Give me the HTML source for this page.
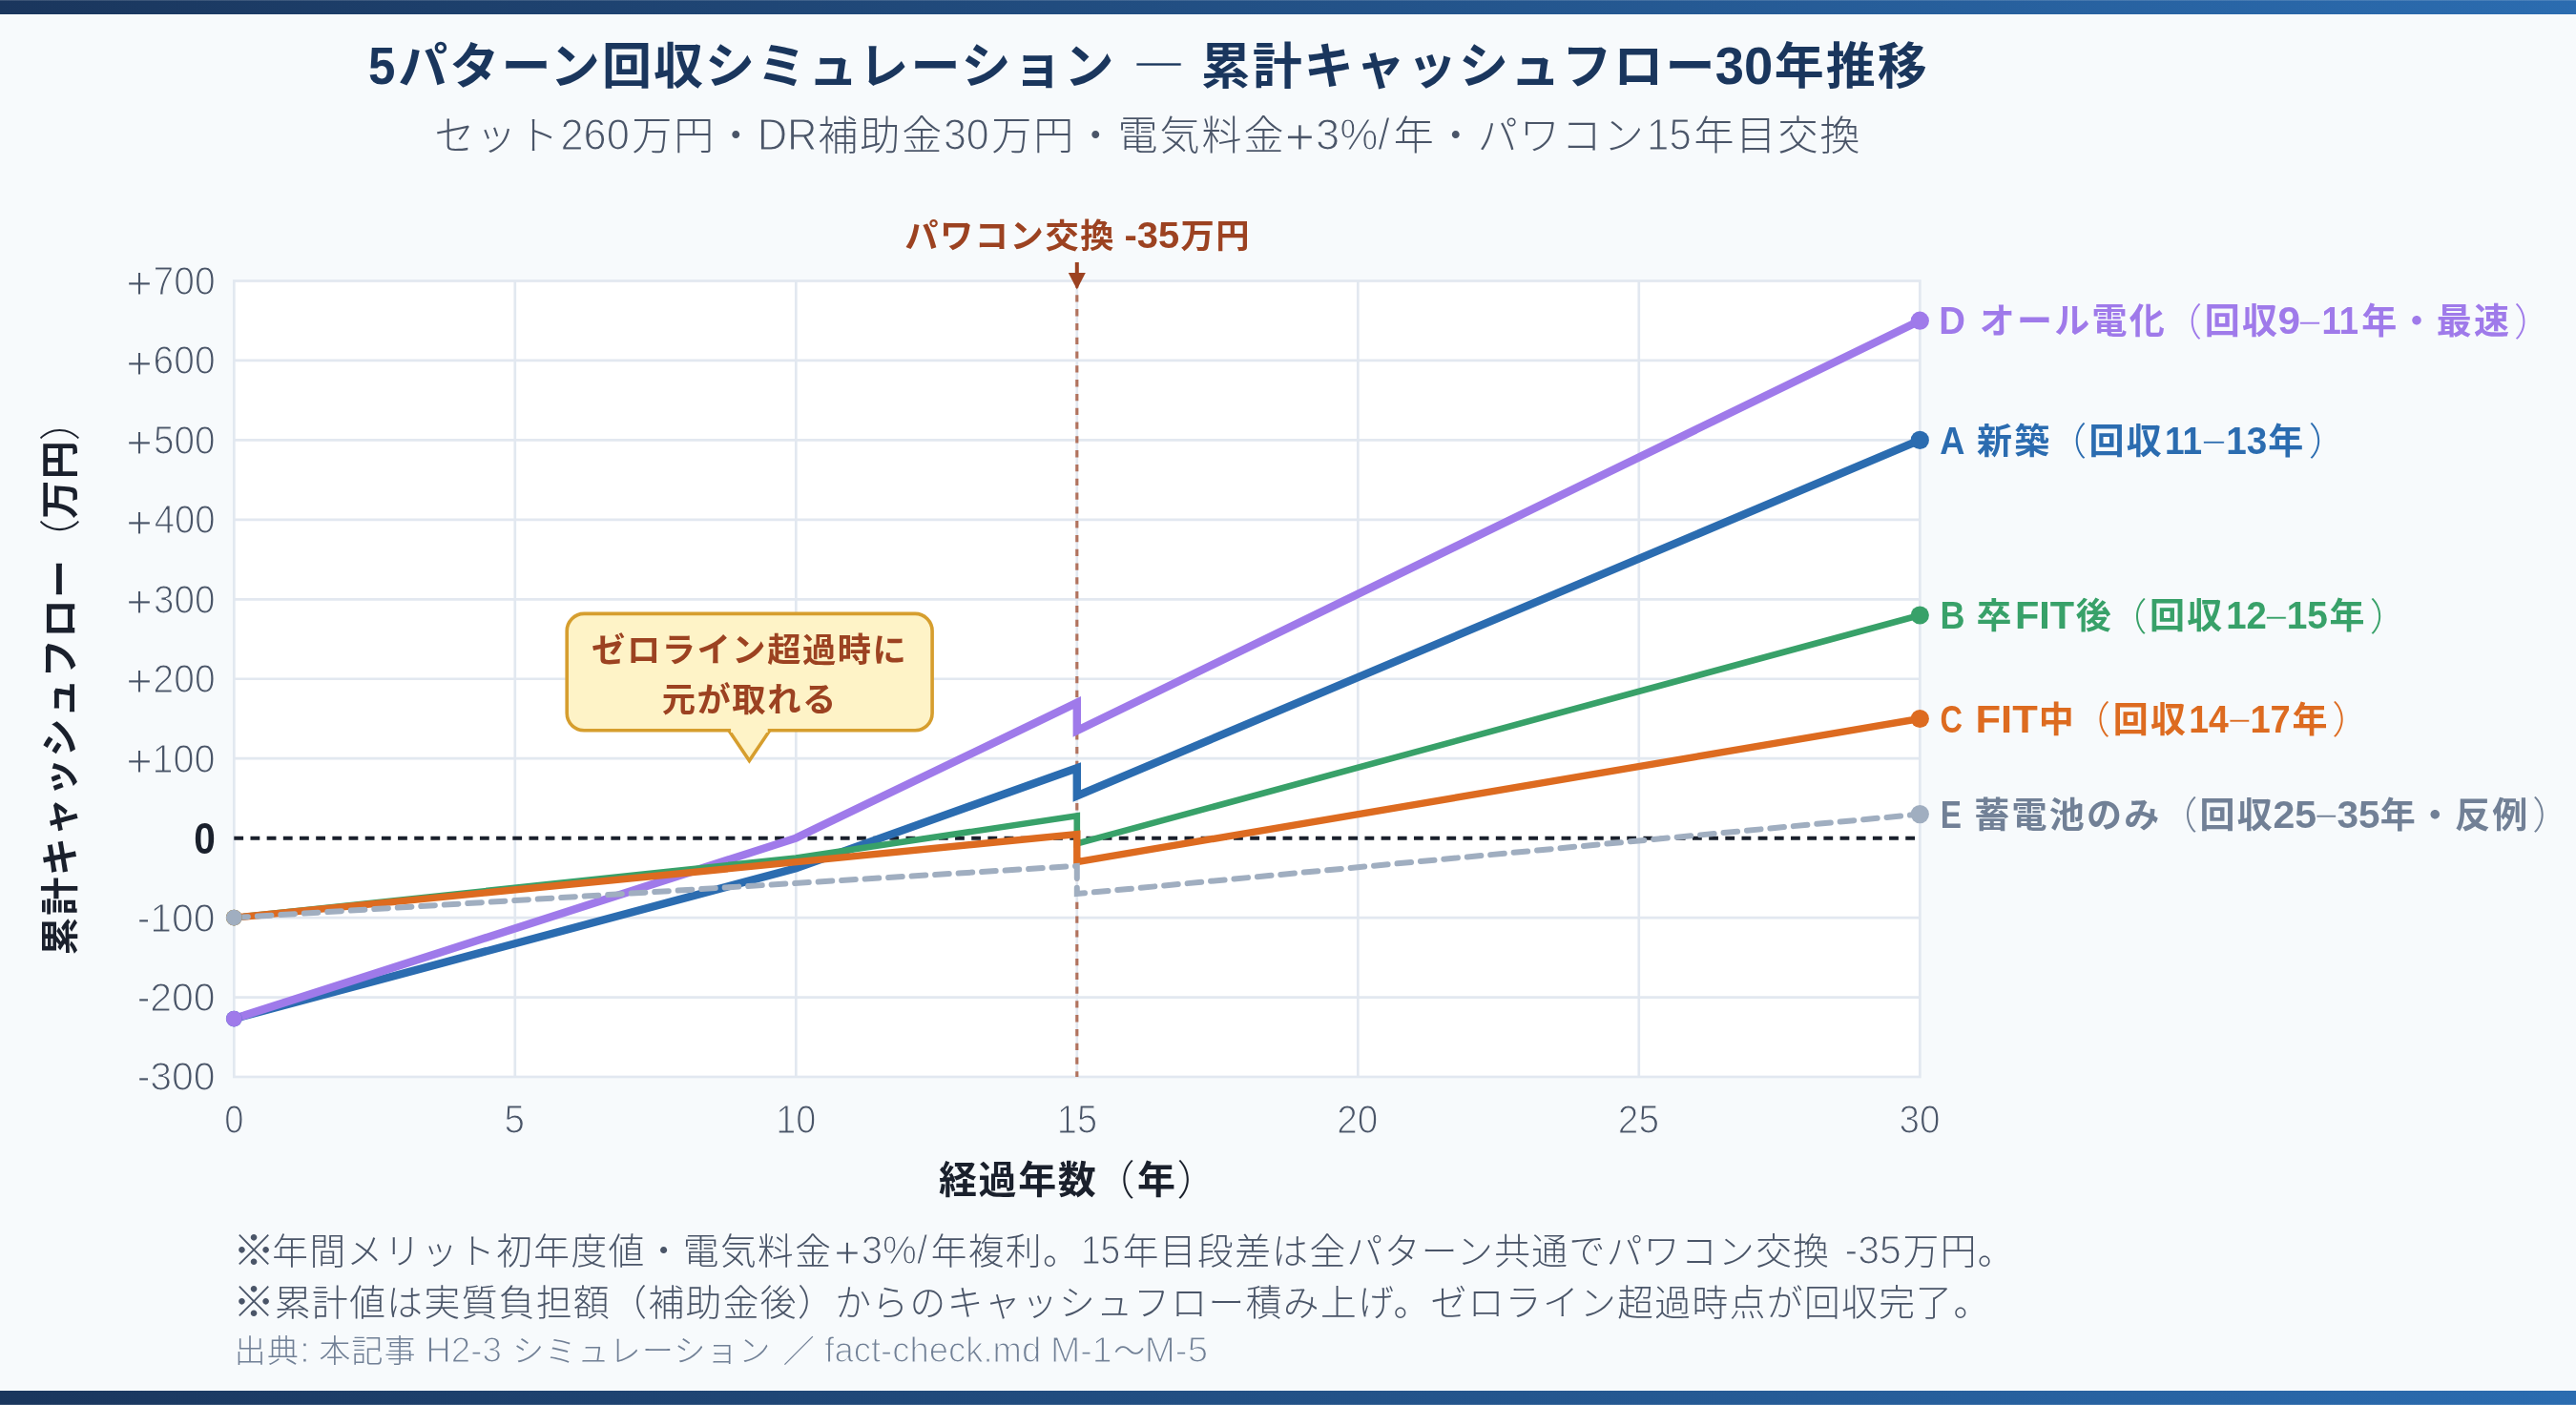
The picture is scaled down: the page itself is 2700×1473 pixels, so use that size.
<!DOCTYPE html>
<html lang="ja"><head><meta charset="utf-8">
<title>5パターン回収シミュレーション</title>
<style>
html,body{margin:0;padding:0;background:#f7fafc;}
body{width:2700px;height:1473px;overflow:hidden;}
svg{display:block;will-change:transform;}
svg text{font-family:"Liberation Sans", "Noto Sans CJK JP", sans-serif;white-space:pre;}
</style></head><body>
<svg width="2700" height="1473" viewBox="0 0 2700 1473">
<defs><linearGradient id="bar" x1="0" y1="0" x2="1" y2="0"><stop offset="0" stop-color="#1a365d"/><stop offset="1" stop-color="#2b6cb0"/></linearGradient></defs>
<rect x="0" y="0" width="2700" height="1473" fill="#f7fafc"/>
<rect x="0" y="0.15" width="2700" height="14.85" fill="url(#bar)"/>
<rect x="0" y="1458" width="2700" height="14.85" fill="url(#bar)"/>
<text y="88" font-size="52" font-weight="700" fill="#1a365d"><tspan x="386.03" font-size="56.41" textLength="28.39" lengthAdjust="spacingAndGlyphs">5</tspan><tspan x="417.23" letter-spacing="2.08">パターン回収シミュレーション </tspan><tspan x="1190.9" dy="-8.85" font-weight="400" font-size="47.1" stroke="#f7fafc" stroke-width="0.7">—</tspan><tspan> </tspan><tspan x="1258.66" dy="8.85" letter-spacing="2.08">累計キャッシュフロー</tspan><tspan x="1797.65" font-size="56.41" textLength="60.48" lengthAdjust="spacingAndGlyphs">30</tspan><tspan x="1859.68" letter-spacing="2.08">年推移</tspan></text>
<text y="156.5" font-size="42" font-weight="300" fill="#4a5568"><tspan x="455.14" letter-spacing="2.02">セット</tspan><tspan x="587.48" font-size="46.31" textLength="72.36" lengthAdjust="spacingAndGlyphs" stroke="#f7fafc" stroke-width="1.2">260</tspan><tspan x="662.34" letter-spacing="2.02">万円・</tspan><tspan x="793.69" font-size="46.31" textLength="62.87" lengthAdjust="spacingAndGlyphs" stroke="#f7fafc" stroke-width="1.2">DR</tspan><tspan x="857.19" letter-spacing="2.02">補助金</tspan><tspan x="988.92" font-size="46.31" textLength="47.8" lengthAdjust="spacingAndGlyphs" stroke="#f7fafc" stroke-width="1.2">30</tspan><tspan x="1039.34" letter-spacing="2.02">万円・電気料金</tspan><tspan x="1346.64" dy="5.25" font-size="53.68" stroke="#f7fafc" stroke-width="1.2">+</tspan><tspan x="1379.04" dy="-5.25" font-size="46.31" textLength="77.8" lengthAdjust="spacingAndGlyphs" stroke="#f7fafc" stroke-width="1.2">3%/</tspan><tspan x="1460.72" letter-spacing="2.02">年・パワコン</tspan><tspan x="1726.07" font-size="46.31" textLength="46.63" lengthAdjust="spacingAndGlyphs" stroke="#f7fafc" stroke-width="1.2">15</tspan><tspan x="1775.42" letter-spacing="2.02">年目交換</tspan></text>
<rect x="245.3" y="294.5" width="1767.0" height="834.5" fill="#ffffff"/>
<path d="M539.8,294.5 V1129.0 M834.3,294.5 V1129.0 M1128.8,294.5 V1129.0 M1423.3,294.5 V1129.0 M1717.8,294.5 V1129.0 M245.3,1045.55 H2012.3 M245.3,962.1 H2012.3 M245.3,795.2 H2012.3 M245.3,711.75 H2012.3 M245.3,628.3 H2012.3 M245.3,544.85 H2012.3 M245.3,461.4 H2012.3 M245.3,377.95 H2012.3" stroke="#e2e8f0" stroke-width="2.7" fill="none"/>
<rect x="245.3" y="294.5" width="1767.0" height="834.5" fill="none" stroke="#e2e8f0" stroke-width="2.7"/>
<text y="1143.4" font-size="38" font-weight="300" fill="#4a5568"><tspan x="143.64" font-size="42.05" textLength="82" lengthAdjust="spacingAndGlyphs" stroke="#f7fafc" stroke-width="1.2">-300</tspan></text>
<text y="1059.95" font-size="38" font-weight="300" fill="#4a5568"><tspan x="143.64" font-size="42.05" textLength="82" lengthAdjust="spacingAndGlyphs" stroke="#f7fafc" stroke-width="1.2">-200</tspan></text>
<text y="976.5" font-size="38" font-weight="300" fill="#4a5568"><tspan x="143.64" font-size="42.05" textLength="82" lengthAdjust="spacingAndGlyphs" stroke="#f7fafc" stroke-width="1.2">-100</tspan></text>
<text y="894.65" font-size="42" font-weight="700" fill="#1a202c"><tspan x="203.29" font-size="45.56" textLength="22.57" lengthAdjust="spacingAndGlyphs">0</tspan></text>
<text y="809.6" font-size="38" font-weight="300" fill="#4a5568"><tspan x="132.21" dy="4.29" font-size="47.2" stroke="#f7fafc" stroke-width="1.2">+</tspan><tspan x="159.54" dy="-4.29" font-size="42.05" textLength="66.04" lengthAdjust="spacingAndGlyphs" stroke="#f7fafc" stroke-width="1.2">100</tspan></text>
<text y="726.15" font-size="38" font-weight="300" fill="#4a5568"><tspan x="132.21" dy="4.29" font-size="47.2" stroke="#f7fafc" stroke-width="1.2">+</tspan><tspan x="160.6" dy="-4.29" font-size="42.05" textLength="64.96" lengthAdjust="spacingAndGlyphs" stroke="#f7fafc" stroke-width="1.2">200</tspan></text>
<text y="642.7" font-size="38" font-weight="300" fill="#4a5568"><tspan x="132.21" dy="4.29" font-size="47.2" stroke="#f7fafc" stroke-width="1.2">+</tspan><tspan x="161.09" dy="-4.29" font-size="42.05" textLength="64.46" lengthAdjust="spacingAndGlyphs" stroke="#f7fafc" stroke-width="1.2">300</tspan></text>
<text y="559.25" font-size="38" font-weight="300" fill="#4a5568"><tspan x="132.21" dy="4.29" font-size="47.2" stroke="#f7fafc" stroke-width="1.2">+</tspan><tspan x="161.68" dy="-4.29" font-size="42.05" textLength="63.85" lengthAdjust="spacingAndGlyphs" stroke="#f7fafc" stroke-width="1.2">400</tspan></text>
<text y="475.8" font-size="38" font-weight="300" fill="#4a5568"><tspan x="132.21" dy="4.29" font-size="47.2" stroke="#f7fafc" stroke-width="1.2">+</tspan><tspan x="161.01" dy="-4.29" font-size="42.05" textLength="64.54" lengthAdjust="spacingAndGlyphs" stroke="#f7fafc" stroke-width="1.2">500</tspan></text>
<text y="392.35" font-size="38" font-weight="300" fill="#4a5568"><tspan x="132.21" dy="4.29" font-size="47.2" stroke="#f7fafc" stroke-width="1.2">+</tspan><tspan x="160.58" dy="-4.29" font-size="42.05" textLength="64.98" lengthAdjust="spacingAndGlyphs" stroke="#f7fafc" stroke-width="1.2">600</tspan></text>
<text y="308.9" font-size="38" font-weight="300" fill="#4a5568"><tspan x="132.21" dy="4.29" font-size="47.2" stroke="#f7fafc" stroke-width="1.2">+</tspan><tspan x="160.56" dy="-4.29" font-size="42.05" textLength="65" lengthAdjust="spacingAndGlyphs" stroke="#f7fafc" stroke-width="1.2">700</tspan></text>
<text y="1187.8" font-size="38" font-weight="300" fill="#4a5568"><tspan x="235.19" font-size="42.05" textLength="20.22" lengthAdjust="spacingAndGlyphs" stroke="#f7fafc" stroke-width="1.2">0</tspan></text>
<text y="1187.8" font-size="38" font-weight="300" fill="#4a5568"><tspan x="528.61" font-size="42.05" textLength="21.5" lengthAdjust="spacingAndGlyphs" stroke="#f7fafc" stroke-width="1.2">5</tspan></text>
<text y="1187.8" font-size="38" font-weight="300" fill="#4a5568"><tspan x="813.28" font-size="42.05" textLength="42.11" lengthAdjust="spacingAndGlyphs" stroke="#f7fafc" stroke-width="1.2">10</tspan></text>
<text y="1187.8" font-size="38" font-weight="300" fill="#4a5568"><tspan x="1107.77" font-size="42.05" textLength="42.24" lengthAdjust="spacingAndGlyphs" stroke="#f7fafc" stroke-width="1.2">15</tspan></text>
<text y="1187.8" font-size="38" font-weight="300" fill="#4a5568"><tspan x="1401.32" font-size="42.05" textLength="43.11" lengthAdjust="spacingAndGlyphs" stroke="#f7fafc" stroke-width="1.2">20</tspan></text>
<text y="1187.8" font-size="38" font-weight="300" fill="#4a5568"><tspan x="1695.81" font-size="42.05" textLength="43.24" lengthAdjust="spacingAndGlyphs" stroke="#f7fafc" stroke-width="1.2">25</tspan></text>
<text y="1187.8" font-size="38" font-weight="300" fill="#4a5568"><tspan x="1990.41" font-size="42.05" textLength="43.01" lengthAdjust="spacingAndGlyphs" stroke="#f7fafc" stroke-width="1.2">30</tspan></text>
<text y="1251" font-size="40" font-weight="700" fill="#1a202c"><tspan x="983.96" letter-spacing="1.6">経過年数</tspan><tspan x="1146.46" dy="1.76" font-weight="300" font-size="43.2" letter-spacing="1.6">（</tspan><tspan x="1192.12" dy="-1.76" letter-spacing="1.6">年</tspan><tspan x="1233.47" dy="1.76" font-weight="300" font-size="43.2" letter-spacing="1.6">）</tspan></text>
<text y="0" font-size="40" font-weight="700" fill="#1a202c" transform="translate(77.3,711) rotate(-90)"><tspan x="-290.4" letter-spacing="1.6">累計キャッシュフロー</tspan><tspan x="124" dy="1.76" font-weight="300" font-size="43.2" letter-spacing="1.6">（</tspan><tspan x="167.2" dy="-1.76" letter-spacing="1.6">万円</tspan><tspan x="248.8" dy="1.76" font-weight="300" font-size="43.2" letter-spacing="1.6">）</tspan></text>
<path d="M245.3,878.65 H2012.3" stroke="#1a202c" stroke-width="4" stroke-dasharray="9.81 7.366" fill="none"/>
<path d="M1128.8,294.5 V1129.0" stroke="#9c4221" stroke-opacity="0.7" stroke-width="3.2" stroke-dasharray="7.3 7.5" fill="none"/>
<path d="M245.3,1068.08 L834.3,910.36 L1128.8,805.21 L1128.8,834.42 L2012.3,461.4" stroke="#2b6cb0" stroke-width="8.4" stroke-linejoin="miter" stroke-miterlimit="10" fill="none"/>
<path d="M245.3,1068.08 L834.3,878.65 L1128.8,736.78 L1128.8,765.99 L2012.3,336.22" stroke="#9f7aea" stroke-width="8.4" stroke-linejoin="miter" stroke-miterlimit="10" fill="none"/>
<path d="M245.3,962.1 L834.3,899.51 L1128.8,855.28 L1128.8,884.49 L2012.3,644.99" stroke="#38a169" stroke-width="6.6" stroke-linejoin="miter" stroke-miterlimit="10" fill="none"/>
<path d="M245.3,962.1 L1128.8,874.48 L1128.8,903.68 L2012.3,753.48" stroke="#dd6b20" stroke-width="7.4" stroke-linejoin="miter" stroke-miterlimit="10" fill="none"/>
<path d="M245.3,962.1 L1128.8,907.86 L1128.8,937.06 L2012.3,853.62" stroke="#a0aec0" stroke-width="6.0" stroke-linejoin="miter" stroke-miterlimit="10" fill="none" stroke-dasharray="14.62 9.92" stroke-linecap="round"/>
<circle cx="245.3" cy="1068.08" r="8.4" fill="#2b6cb0"/>
<circle cx="2012.3" cy="461.4" r="9.6" fill="#2b6cb0"/>
<circle cx="245.3" cy="1068.08" r="8.4" fill="#9f7aea"/>
<circle cx="2012.3" cy="336.22" r="9.6" fill="#9f7aea"/>
<circle cx="245.3" cy="962.1" r="8.4" fill="#38a169"/>
<circle cx="2012.3" cy="644.99" r="9.6" fill="#38a169"/>
<circle cx="245.3" cy="962.1" r="8.4" fill="#dd6b20"/>
<circle cx="2012.3" cy="753.48" r="9.6" fill="#dd6b20"/>
<circle cx="245.3" cy="962.1" r="8.4" fill="#a0aec0"/>
<circle cx="2012.3" cy="853.62" r="9.6" fill="#a0aec0"/>
<text y="350.42" font-size="37" font-weight="700" fill="#9f7aea"><tspan x="2032.34" font-size="40.14" textLength="27.67" lengthAdjust="spacingAndGlyphs">D</tspan><tspan> </tspan><tspan x="2074.68" letter-spacing="2.25">オール電化</tspan><tspan x="2268.17" dy="1.63" font-weight="300" font-size="39.96" letter-spacing="2.25">（</tspan><tspan x="2310.77" dy="-1.63" letter-spacing="2.25">回収</tspan><tspan x="2387.53" font-size="40.14" textLength="23.54" lengthAdjust="spacingAndGlyphs">9</tspan><tspan x="2410.5" dy="-2.45" font-weight="400" font-size="37.76" stroke="#f7fafc" stroke-width="0.7">–</tspan><tspan x="2433.42" dy="2.45" font-size="40.14" textLength="38.55" lengthAdjust="spacingAndGlyphs">11</tspan><tspan x="2475.23" letter-spacing="2.25">年・最速</tspan><tspan x="2634.97" dy="1.63" font-weight="300" font-size="39.96" letter-spacing="2.25">）</tspan></text>
<text y="475.6" font-size="37" font-weight="700" fill="#2b6cb0"><tspan x="2033.2" font-size="40.14" textLength="26.16" lengthAdjust="spacingAndGlyphs">A</tspan><tspan> </tspan><tspan x="2071.91" letter-spacing="2.25">新築</tspan><tspan x="2147.27" dy="1.63" font-weight="300" font-size="39.96" letter-spacing="2.25">（</tspan><tspan x="2189.57" dy="-1.63" letter-spacing="2.25">回収</tspan><tspan x="2268.89" font-size="40.14" textLength="39.09" lengthAdjust="spacingAndGlyphs">11</tspan><tspan x="2309.5" dy="-2.08" font-weight="400" font-size="39.2" stroke="#f7fafc" stroke-width="0.7">–</tspan><tspan x="2333.26" dy="2.08" font-size="40.14" textLength="43.03" lengthAdjust="spacingAndGlyphs">13</tspan><tspan x="2377.33" letter-spacing="2.25">年</tspan><tspan x="2419.77" dy="1.63" font-weight="300" font-size="39.96" letter-spacing="2.25">）</tspan></text>
<text y="659.19" font-size="37" font-weight="700" fill="#38a169"><tspan x="2033.49" font-size="40.14" textLength="26.05" lengthAdjust="spacingAndGlyphs">B</tspan><tspan> </tspan><tspan x="2071.49" letter-spacing="2.25">卒</tspan><tspan x="2112.03" font-size="40.14" textLength="62.12" lengthAdjust="spacingAndGlyphs">FIT</tspan><tspan x="2175.71" letter-spacing="2.25">後</tspan><tspan x="2210.57" dy="1.63" font-weight="300" font-size="39.96" letter-spacing="2.25">（</tspan><tspan x="2253.07" dy="-1.63" letter-spacing="2.25">回収</tspan><tspan x="2333.28" font-size="40.14" textLength="42.65" lengthAdjust="spacingAndGlyphs">12</tspan><tspan x="2375.4" dy="-2.58" font-weight="400" font-size="37.22" stroke="#f7fafc" stroke-width="0.7">–</tspan><tspan x="2396.75" dy="2.58" font-size="40.14" textLength="43.23" lengthAdjust="spacingAndGlyphs">15</tspan><tspan x="2441.43" letter-spacing="2.25">年</tspan><tspan x="2483.87" dy="1.63" font-weight="300" font-size="39.96" letter-spacing="2.25">）</tspan></text>
<text y="767.68" font-size="37" font-weight="700" fill="#dd6b20"><tspan x="2033.57" font-size="40.14" textLength="23.5" lengthAdjust="spacingAndGlyphs">C</tspan><tspan> </tspan><tspan x="2070.53" font-size="40.14" textLength="65.24" lengthAdjust="spacingAndGlyphs">FIT</tspan><tspan x="2136.64" letter-spacing="2.25">中</tspan><tspan x="2172.07" dy="1.63" font-weight="300" font-size="39.96" letter-spacing="2.25">（</tspan><tspan x="2214.67" dy="-1.63" letter-spacing="2.25">回収</tspan><tspan x="2294.35" font-size="40.14" textLength="41.55" lengthAdjust="spacingAndGlyphs">14</tspan><tspan x="2336.9" dy="-2.54" font-weight="400" font-size="37.4" stroke="#f7fafc" stroke-width="0.7">–</tspan><tspan x="2358.39" dy="2.54" font-size="40.14" textLength="42.48" lengthAdjust="spacingAndGlyphs">17</tspan><tspan x="2402.43" letter-spacing="2.25">年</tspan><tspan x="2444.17" dy="1.63" font-weight="300" font-size="39.96" letter-spacing="2.25">）</tspan></text>
<text y="867.82" font-size="37" font-weight="700" fill="#718096"><tspan x="2033.67" font-size="40.14" textLength="22.23" lengthAdjust="spacingAndGlyphs">E</tspan><tspan> </tspan><tspan x="2069.24" letter-spacing="2.25">蓄電池のみ</tspan><tspan x="2263.57" dy="1.63" font-weight="300" font-size="39.96" letter-spacing="2.25">（</tspan><tspan x="2305.57" dy="-1.63" letter-spacing="2.25">回収</tspan><tspan x="2382.38" font-size="40.14" textLength="45.67" lengthAdjust="spacingAndGlyphs">25</tspan><tspan x="2427.9" dy="-2.67" font-weight="400" font-size="36.86" stroke="#f7fafc" stroke-width="0.7">–</tspan><tspan x="2449.47" dy="2.67" font-size="40.14" textLength="45.16" lengthAdjust="spacingAndGlyphs">35</tspan><tspan x="2494.63" letter-spacing="2.25">年・反例</tspan><tspan x="2654.27" dy="1.63" font-weight="300" font-size="39.96" letter-spacing="2.25">）</tspan></text>
<text y="260" font-size="35.3" font-weight="700" fill="#9c4221"><tspan x="948.13" letter-spacing="1.52">パワコン交換 </tspan><tspan x="1178.44" font-size="38.29" textLength="57.77" lengthAdjust="spacingAndGlyphs">-35</tspan><tspan x="1237.53" letter-spacing="1.52">万円</tspan></text>
<path d="M1128.8,275 V288" stroke="#9c4221" stroke-width="4" fill="none"/>
<path d="M1119.8,285.9 L1137.8,285.9 L1128.8,303.5 Z" fill="#9c4221"/>
<rect x="594.2" y="643.4" width="382.9" height="122.4" rx="18" ry="18" fill="#fef3c7" stroke="#d69e2e" stroke-width="3.6"/>
<path d="M764.1,765.9 L785.4,797.5 L806.7,765.9 Z" fill="#fef3c7" stroke="#d69e2e" stroke-width="3.6" stroke-linejoin="miter"/>
<rect x="766.1" y="763.4" width="38.6" height="4.6" fill="#fef3c7"/>
<text y="693.5" font-size="35.3" font-weight="700" fill="#9c4221"><tspan x="620.08" letter-spacing="1.52">ゼロライン超過時に</tspan></text>
<text y="745.9" font-size="35.3" font-weight="700" fill="#9c4221"><tspan x="693.71" letter-spacing="1.52">元が取れる</tspan></text>
<text y="1325" font-size="37.7" font-weight="300" fill="#4a5568"><tspan x="243.89" dy="2.44" font-size="44.11">※</tspan><tspan x="285.34" dy="-2.44" letter-spacing="1.45">年間メリット初年度値・電気料金</tspan><tspan x="874.17" dy="4.28" font-size="46.89" stroke="#f7fafc" stroke-width="1.2">+</tspan><tspan x="902.73" dy="-4.28" font-size="41.73" textLength="69.41" lengthAdjust="spacingAndGlyphs" stroke="#f7fafc" stroke-width="1.2">3%/</tspan><tspan x="975.64" letter-spacing="1.45">年複利。</tspan><tspan x="1132.93" font-size="41.73" textLength="41.38" lengthAdjust="spacingAndGlyphs" stroke="#f7fafc" stroke-width="1.2">15</tspan><tspan x="1176.74" letter-spacing="1.45">年目段差は全パターン共通でパワコン交換 </tspan><tspan x="1933.54" font-size="41.73" textLength="59.22" lengthAdjust="spacingAndGlyphs" stroke="#f7fafc" stroke-width="1.2">-35</tspan><tspan x="1994.52" letter-spacing="1.45">万円。</tspan></text>
<text y="1379" font-size="37.7" font-weight="300" fill="#4a5568"><tspan x="243.89" dy="2.44" font-size="44.11">※</tspan><tspan x="287.94" dy="-2.44" letter-spacing="1.45">累計値は実質負担額</tspan><tspan x="640.31" font-weight="300" font-size="37.7" letter-spacing="1.45">（</tspan><tspan x="679.46" letter-spacing="1.45">補助金後</tspan><tspan x="836.06" font-weight="300" font-size="37.7" letter-spacing="1.45">）</tspan><tspan x="875.22" letter-spacing="1.45">からのキャッシュフロー積み上げ。ゼロライン超過時点が回収完了。</tspan></text>
<text y="1428" font-size="32.8" font-weight="300" fill="#718096"><tspan x="245.86" letter-spacing="1.31">出典</tspan><tspan x="313.67" font-size="36.5" textLength="11.36" lengthAdjust="spacingAndGlyphs" stroke="#f7fafc" stroke-width="1.2">:</tspan><tspan> </tspan><tspan x="334.49" letter-spacing="1.31">本記事 </tspan><tspan x="446.25" font-size="36.5" textLength="79.61" lengthAdjust="spacingAndGlyphs" stroke="#f7fafc" stroke-width="1.2">H2-3</tspan><tspan> </tspan><tspan x="537.2" letter-spacing="1.31">シミュレーション </tspan><tspan x="820.75" letter-spacing="1.31">／ </tspan><tspan x="864.34" font-size="36.5" textLength="226.85" lengthAdjust="spacingAndGlyphs" stroke="#f7fafc" stroke-width="1.2">fact-check.md</tspan><tspan> </tspan><tspan x="1100.98" font-size="36.5" textLength="64.7" lengthAdjust="spacingAndGlyphs" stroke="#f7fafc" stroke-width="1.2">M-1</tspan><tspan x="1167.26" letter-spacing="1.31">〜</tspan><tspan x="1199.8" font-size="36.5" textLength="66.25" lengthAdjust="spacingAndGlyphs" stroke="#f7fafc" stroke-width="1.2">M-5</tspan></text>
</svg>
</body></html>
